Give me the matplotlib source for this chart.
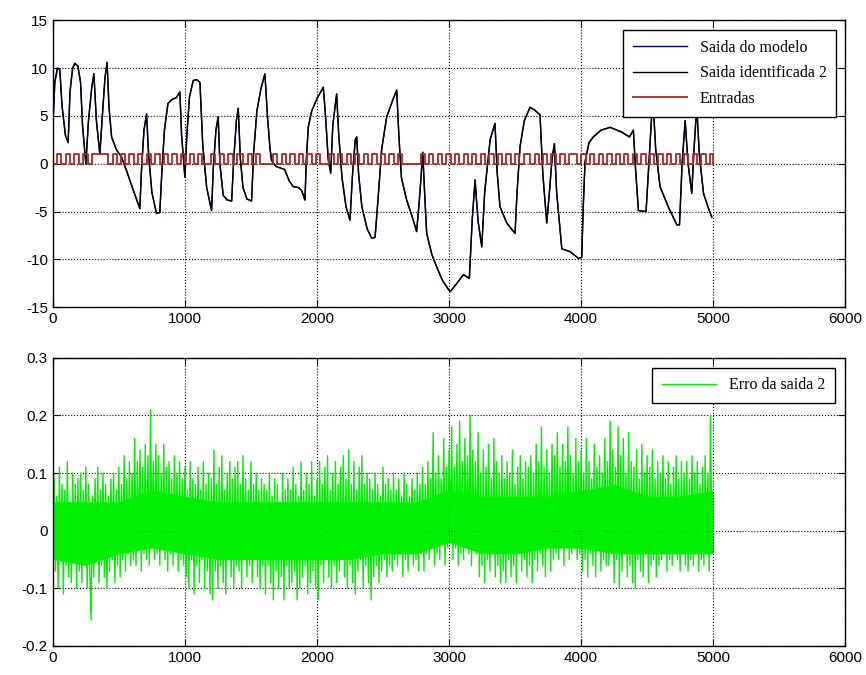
import numpy as np
import matplotlib.pyplot as plt
from matplotlib.ticker import FuncFormatter

plt.rcParams['font.family'] = ['Liberation Sans', 'DejaVu Sans']
plt.rcParams['axes.unicode_minus'] = False

# --- model output / identified output (vertices of the traces) ---
out_t = [0, 15, 35, 53, 70, 95, 116, 130, 150, 167, 190, 210, 225, 250, 270, 295,
         311, 330, 356, 375, 395, 411, 425, 445, 480, 520, 560, 610, 659, 670,
         690, 710, 725, 750, 785, 810, 825, 845, 872, 900, 935, 962, 975, 1000,
         1015, 1035, 1063, 1090, 1114, 1135, 1165, 1202, 1215, 1235, 1252, 1265,
         1290, 1320, 1354, 1370, 1390, 1404, 1420, 1440, 1470, 1505, 1520, 1545,
         1575, 1606, 1625, 1645, 1657, 1692, 1755, 1790, 1820, 1860, 1884, 1909,
         1920, 1934, 1960, 2000, 2048, 2065, 2085, 2104, 2120, 2149, 2165, 2190,
         2220, 2250, 2270, 2290, 2301, 2315, 2340, 2380, 2414, 2440, 2462, 2490,
         2528, 2570, 2604, 2620, 2640, 2679, 2720, 2755, 2780, 2801, 2815, 2831,
         2870, 2907, 2950, 3008, 3060, 3109, 3154, 3175, 3197, 3220, 3248, 3270,
         3311, 3348, 3365, 3386, 3437, 3500, 3515, 3538, 3570, 3614, 3650, 3689,
         3710, 3740, 3760, 3780, 3798, 3815, 3854, 3917, 3980, 4005, 4015, 4030,
         4060, 4093, 4150, 4220, 4308, 4366, 4396, 4410, 4434, 4492, 4515, 4543,
         4565, 4598, 4660, 4725, 4745, 4765, 4788, 4810, 4838, 4855, 4876, 4895,
         4927, 4960, 4990]
out_model = [3.8, 8.5, 10.0, 9.8, 6.0, 3.0, 2.2, 7.5, 10.0, 10.5, 10.2, 8.5, 4.0,
             0.0, 4.5, 8.0, 9.4, 4.5, 1.0, 5.0, 9.0, 10.6, 6.0, 2.8, 1.5, 0.7, -0.8,
             -2.8, -4.7, -1.0, 3.5, 5.2, 1.0, -3.0, -5.2, -5.1, -1.0, 3.5, 6.3, 6.7,
             6.9, 7.5, 3.0, -1.4, 3.0, 7.0, 8.7, 8.8, 8.5, 2.0, -2.5, -4.9, -0.5,
             3.5, 4.9, 0.0, -3.3, -3.8, -3.9, 0.5, 4.5, 5.8, 0.5, -2.5, -3.7, -3.9,
             1.0, 5.5, 7.8, 9.4, 5.0, 1.5, 0.3, -0.3, -0.6, -1.8, -2.4, -2.5, -2.8,
             -3.8, 0.5, 3.8, 5.5, 6.8, 8.0, 5.0, 0.5, -1.0, 4.0, 7.3, 3.0, -1.5,
             -4.5, -5.9, -1.0, 2.5, 2.8, -1.0, -4.5, -6.8, -7.8, -7.7, -3.8, 1.5,
             4.9, 6.5, 7.7, 3.0, -1.5, -3.8, -5.5, -7.1, -3.0, 1.2, -3.0, -7.3,
             -9.5, -10.8, -12.2, -13.4, -12.5, -11.6, -12.0, -6.0, -1.7, -6.0, -8.7,
             -3.0, 2.5, 4.2, -1.0, -4.5, -6.2, -7.3, -3.0, 1.8, 4.5, 5.9, 5.6, 5.1,
             -1.0, -6.2, -3.0, 0.5, 2.1, -3.0, -8.9, -9.2, -9.9, -9.8, -5.0, 0.2,
             2.2, 2.8, 3.5, 3.8, 3.3, 2.8, 3.5, 0.0, -4.9, -5.0, 0.5, 7.0,
             1.5, -2.4, -4.5, -6.4, -6.4, 0.0, 4.5, 0.0, -3.1, 1.5, 6.0, 1.0,
             -3.1, -4.5, -5.6]
out_ident = out_model

# --- input signal: lengths (samples) of each constant level, alternating 0/1 ---
in_durations = [34, 31, 35, 30, 33, 36, 32, 34, 30, 125,
                33, 31, 34, 32, 30, 35, 33, 31, 32, 34, 30, 33, 32, 31, 35, 33,
                30, 32, 34, 31, 33, 32, 66,
                34, 32, 33, 31, 35, 32, 48, 33, 30, 35, 31, 96,
                32, 34, 31, 33, 35, 30, 32, 34, 31, 33, 32, 70,
                33, 31, 34, 32, 35, 30, 33, 32, 31, 34, 33, 30, 32, 35, 31, 33,
                32, 140,
                32, 34, 31, 33, 35, 30, 32, 33, 31, 34, 32, 33, 30, 35, 32, 31,
                34, 33, 32, 30, 35, 33, 31, 34, 50,
                33, 31, 34, 32, 30, 35, 33, 32, 31, 64,
                32, 34, 31, 33, 35, 30, 32, 34, 31, 33, 32, 30, 35, 33, 31, 32,
                34, 33, 30, 32, 35, 31, 33, 32, 34, 30, 33, 32, 31, 35, 33, 24]

# --- error of output 2, one value every 10 samples ---
err_step = 10
err = [
    0.02, 0.09, -0.07, 0.06, -0.10, 0.11, -0.05, 0.08, -0.11, 0.07, -0.06, 0.12, -0.08, 0.05, -0.09, 0.10, -0.04, 0.08, -0.10, 0.09,
    -0.07, 0.10, -0.09, 0.07, -0.06, 0.11, -0.10, 0.08, -0.07, -0.155, 0.06, -0.08, 0.09, -0.05, 0.11, -0.09, 0.07, -0.06, 0.10, -0.08,
    0.08, -0.10, 0.06, -0.07, 0.09, -0.05, 0.10, -0.09, 0.07, -0.06, 0.11, -0.08, 0.08, -0.05, 0.13, -0.07, 0.09, -0.04, 0.12, -0.06,
    0.10, -0.05, 0.16, -0.06, 0.12, -0.03, 0.14, -0.07, 0.11, -0.04, 0.15, -0.05, 0.13, -0.06, 0.21, -0.03, 0.12, -0.05, 0.15, -0.04,
    0.13, -0.06, 0.10, -0.03, 0.15, -0.05, 0.11, -0.07, 0.12, -0.04, 0.09, -0.06, 0.13, -0.03, 0.10, -0.07, 0.12, -0.05, 0.09, -0.06,
    0.11, -0.08, 0.07, -0.10, 0.12, -0.05, 0.09, -0.11, 0.08, -0.06, 0.11, -0.09, 0.07, -0.05, 0.12, -0.10, 0.08, -0.07, 0.10, -0.11,
    0.09, -0.12, 0.14, -0.07, 0.08, -0.10, 0.11, -0.06, 0.13, -0.09, 0.07, -0.11, 0.10, -0.05, 0.12, -0.08, 0.09, -0.10, 0.11, -0.06,
    0.12, -0.07, 0.08, -0.10, 0.13, -0.05, 0.09, -0.08, 0.07, -0.06, 0.12, -0.09, 0.08, -0.05, 0.10, -0.08, 0.07, -0.10, 0.09, -0.06,
    0.08, -0.11, 0.07, -0.06, 0.10, -0.09, 0.06, -0.12, 0.09, -0.07, 0.08, -0.10, 0.05, -0.08, 0.10, -0.12, 0.07, -0.06, 0.09, -0.10,
    0.07, -0.09, 0.11, -0.07, 0.08, -0.12, 0.06, -0.10, 0.12, -0.08, 0.07, -0.06, 0.10, -0.11, 0.08, -0.09, 0.12, -0.07, 0.06, -0.10,
    0.09, -0.12, 0.12, -0.06, 0.08, -0.09, 0.11, -0.05, 0.13, -0.08, 0.07, -0.10, 0.10, -0.06, 0.12, -0.09, 0.08, -0.07, 0.11, -0.05,
    0.13, -0.08, 0.09, -0.10, 0.14, -0.06, 0.08, -0.09, 0.12, -0.11, 0.07, -0.07, 0.11, -0.05, 0.13, -0.10, 0.08, -0.06, 0.10, -0.09,
    0.09, -0.12, 0.07, -0.08, 0.10, -0.06, 0.08, -0.09, 0.06, -0.07, 0.11, -0.05, 0.08, -0.08, 0.09, -0.06, 0.07, -0.07, 0.10, -0.05,
    0.07, -0.06, 0.09, -0.04, 0.06, -0.08, 0.10, -0.05, 0.08, -0.07, 0.06, -0.04, 0.09, -0.06, 0.07, -0.05, 0.10, -0.07, 0.08, -0.04,
    0.11, -0.07, 0.08, -0.04, 0.12, -0.05, 0.09, -0.03, 0.17, -0.06, 0.10, -0.04, 0.13, -0.05, 0.09, -0.02, 0.16, -0.06, 0.11, -0.03,
    0.14, -0.02, 0.18, -0.05, 0.11, -0.03, 0.15, -0.06, 0.19, -0.04, 0.12, -0.05, 0.16, -0.02, 0.13, -0.04, 0.20, -0.06, 0.14, -0.03,
    0.12, -0.04, 0.17, -0.08, 0.10, -0.06, 0.14, -0.09, 0.11, -0.05, 0.15, -0.07, 0.09, -0.04, 0.16, -0.08, 0.12, -0.06, 0.10, -0.09,
    0.13, -0.07, 0.09, -0.09, 0.12, -0.05, 0.10, -0.08, 0.14, -0.06, 0.08, -0.09, 0.11, -0.04, 0.13, -0.07, 0.09, -0.05, 0.12, -0.08,
    0.11, -0.06, 0.13, -0.09, 0.10, -0.05, 0.15, -0.07, 0.12, -0.04, 0.18, -0.06, 0.11, -0.08, 0.14, -0.03, 0.10, -0.07, 0.15, -0.05,
    0.13, -0.04, 0.17, -0.05, 0.11, -0.03, 0.15, -0.06, 0.12, -0.02, 0.18, -0.05, 0.13, -0.04, 0.10, -0.03, 0.16, -0.05, 0.12, -0.04,
    0.14, -0.07, 0.10, -0.05, 0.16, -0.08, 0.12, -0.04, 0.09, -0.06, 0.15, -0.08, 0.11, -0.03, 0.13, -0.07, 0.10, -0.05, 0.16, -0.06,
    0.12, -0.06, 0.19, -0.04, 0.14, -0.09, 0.11, -0.05, 0.18, -0.10, 0.13, -0.07, 0.16, -0.04, 0.10, -0.08, 0.17, -0.06, 0.12, -0.09,
    0.11, -0.10, 0.14, -0.05, 0.09, -0.07, 0.15, -0.08, 0.10, -0.04, 0.13, -0.09, 0.11, -0.06, 0.14, -0.05, 0.09, -0.08, 0.12, -0.06,
    0.10, -0.05, 0.13, -0.04, 0.09, -0.07, 0.12, -0.05, 0.08, -0.06, 0.11, -0.03, 0.13, -0.05, 0.09, -0.07, 0.12, -0.04, 0.10, -0.06,
    0.12, -0.07, 0.09, -0.05, 0.13, -0.06, 0.10, -0.04, 0.12, -0.07, 0.08, -0.05, 0.11, -0.06, 0.13, -0.04, 0.10, -0.07, 0.20, -0.03,
    0.04]

# dense core of the error trace, every 250 samples
core_t = [0, 250, 500, 750, 1000, 1250, 1500, 1750, 2000, 2250, 2500,
          2750, 3000, 3250, 3500, 3750, 4000, 4250, 4500, 4750, 5000]
core_hi = [0.05, 0.05, 0.05, 0.07, 0.06, 0.05, 0.05, 0.05, 0.05, 0.05, 0.05,
           0.05, 0.07, 0.06, 0.06, 0.06, 0.07, 0.08, 0.06, 0.06, 0.07]
core_lo = [-0.05, -0.06, -0.04, -0.03, -0.04, -0.05, -0.05, -0.05, -0.05, -0.05, -0.04,
           -0.04, -0.02, -0.04, -0.04, -0.03, -0.03, -0.04, -0.04, -0.04, -0.04]

# build the step signal for the inputs
in_t = np.concatenate([[0], np.cumsum(in_durations)])
in_t = np.clip(in_t, 0, 5000)
in_level = np.arange(len(in_t)) % 2

err_t = np.arange(len(err)) * err_step

green = '#00ee00'

fig = plt.figure(figsize=(8.66, 6.75), dpi=100)
ax1 = fig.add_axes([0.061, 0.545, 0.915, 0.425])
ax2 = fig.add_axes([0.061, 0.043, 0.915, 0.427])

legend_kw = dict(prop={'family': 'Liberation Serif', 'size': 11.5}, fancybox=False,
                 edgecolor='black', framealpha=1, handlelength=3.4,
                 handletextpad=0.8, borderaxespad=0, borderpad=0.6)

ax1.plot(out_t, out_model, color='#000080', lw=1.0, label='Saida do modelo')
ax1.plot(out_t, out_ident, color='black', lw=1.0, label='Saida identificada 2')
ax1.step(in_t, in_level, where='post', color='#b22222', lw=1.3, label='Entradas')
ax1.set_xlim(0, 6000)
ax1.set_ylim(-15, 15)
ax1.set_yticks(np.arange(-15, 16, 5))
leg1 = ax1.legend(loc='upper right', bbox_to_anchor=(0.989, 0.965),
                  labelspacing=0.6, **legend_kw)
leg1.get_frame().set_linewidth(1.0)

ax2.fill_between(core_t, core_lo, core_hi, color=green, lw=0)
ax2.plot(err_t, err, color=green, lw=1.0, label='Erro da saida 2')
ax2.set_xlim(0, 6000)
ax2.set_ylim(-0.2, 0.3)
ax2.set_yticks([-0.2, -0.1, 0, 0.1, 0.2, 0.3])
ax2.yaxis.set_major_formatter(FuncFormatter(lambda v, p: '%g' % round(v, 2)))
leg2 = ax2.legend(loc='upper right', bbox_to_anchor=(0.987, 0.965), **legend_kw)
leg2.get_frame().set_linewidth(1.0)

for ax in (ax1, ax2):
    ax.set_xticks(np.arange(0, 6001, 1000))
    ax.grid(True, color='black', linestyle=':', linewidth=0.8)
    ax.tick_params(direction='in', top=True, right=True, labelsize=11, length=5)
    for s in ax.spines.values():
        s.set_linewidth(1.0)

fig.savefig('out.png', dpi=100)
